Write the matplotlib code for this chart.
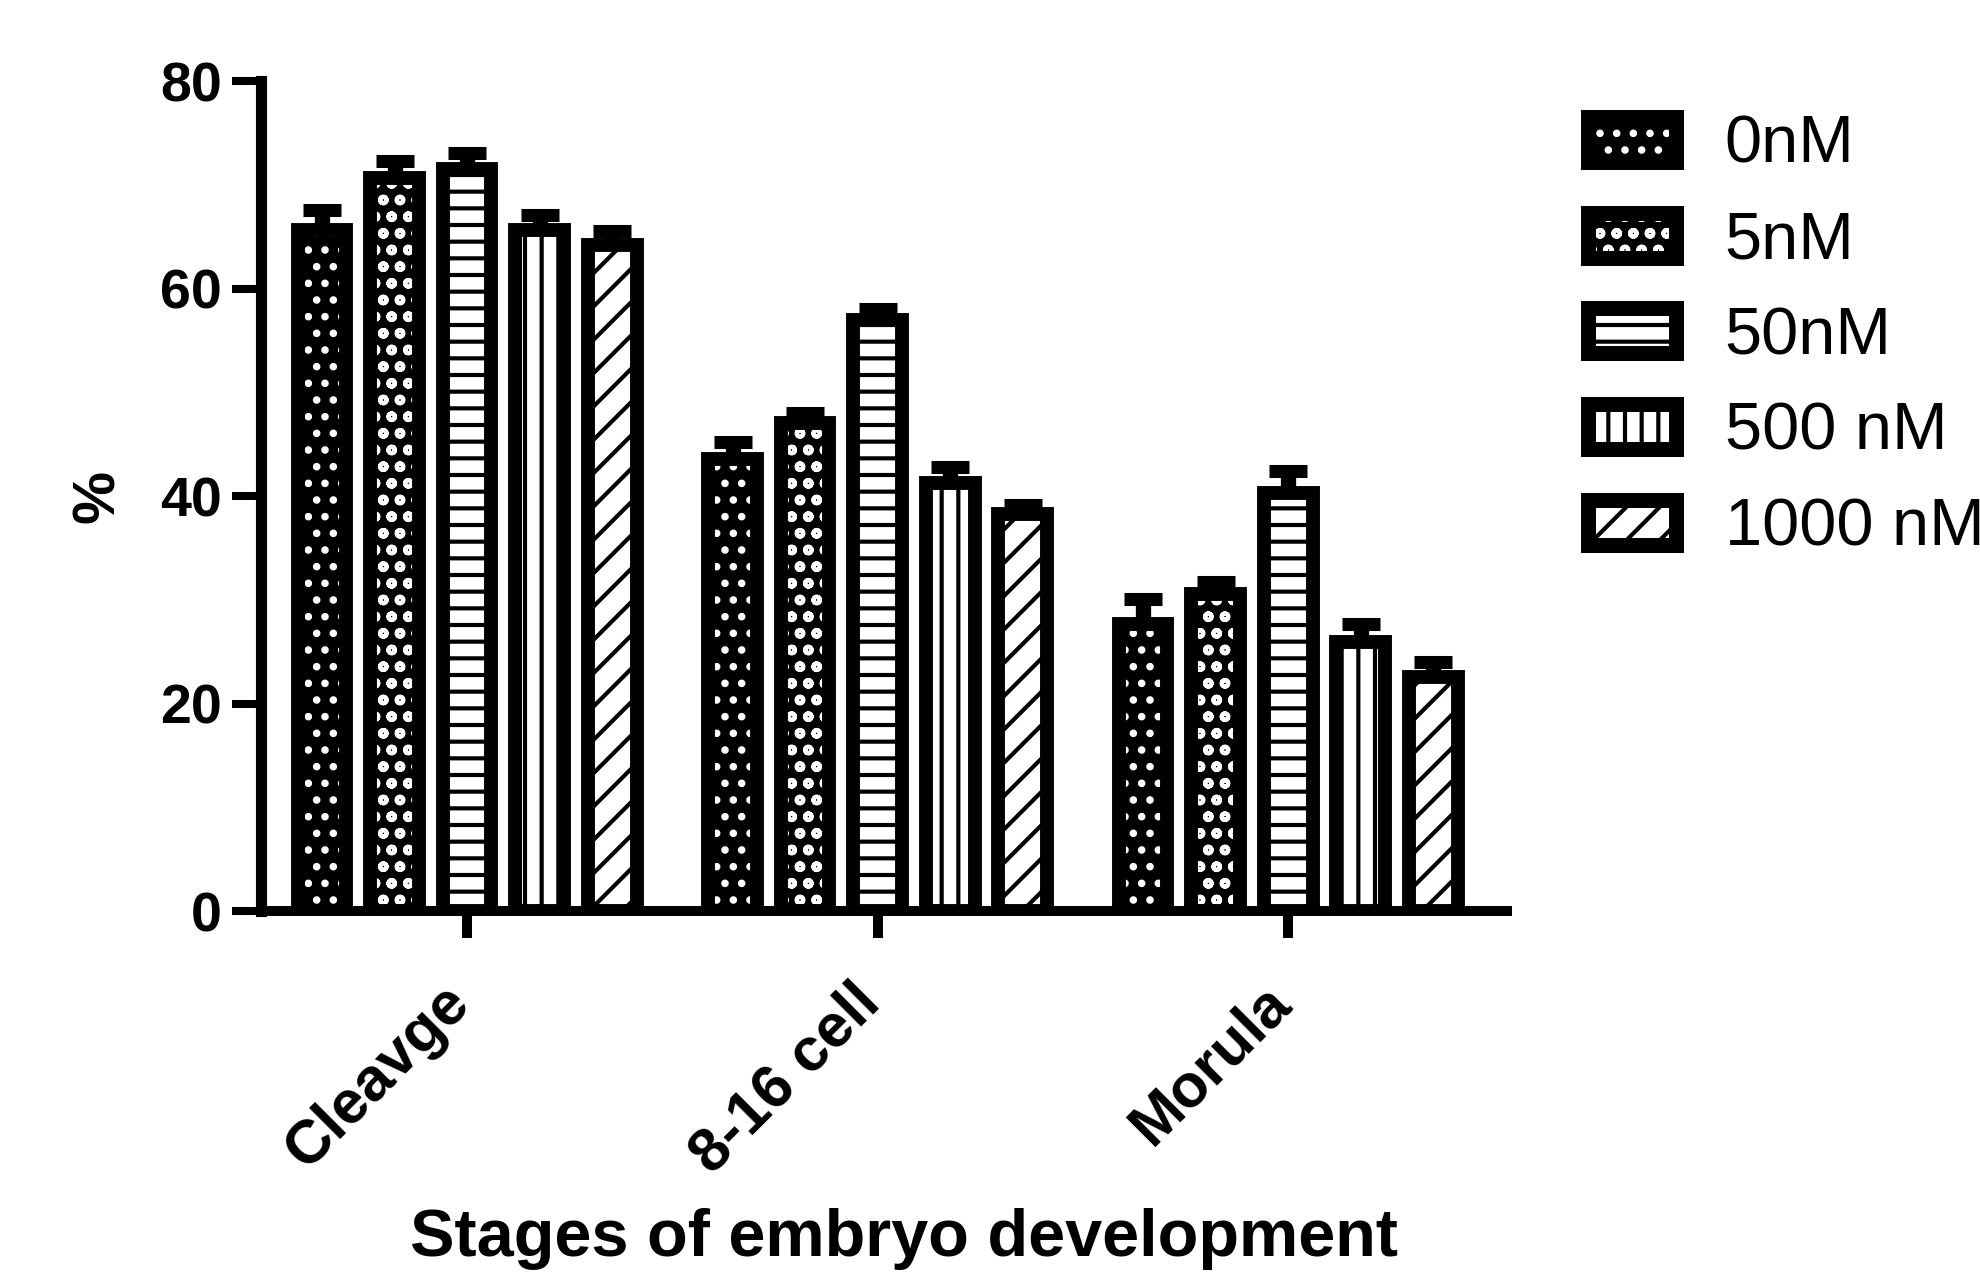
import numpy as np
import matplotlib
matplotlib.use('Agg')
import matplotlib.pyplot as plt
from matplotlib.patches import Patch
from matplotlib.transforms import ScaledTranslation

plt.rcParams['font.family'] = ['Liberation Sans', 'DejaVu Sans']
plt.rcParams['hatch.linewidth'] = 3.0

stages = ['Cleavge', '8-16 cell', 'Morula']
doses = ['0nM', '5nM', '50nM', '500 nM', '1000 nM']

# mean % of embryos reaching each stage, per dose
pct_0nm = [65.6, 43.6, 27.7]
pct_5nm = [70.7, 47.0, 30.6]
pct_50nm = [71.5, 57.0, 40.3]
pct_500nm = [65.6, 41.3, 25.9]
pct_1000nm = [64.2, 38.3, 22.6]

# SEM
sem_0nm = [2.0, 1.6, 2.4]
sem_5nm = [1.6, 1.0, 1.1]
sem_50nm = [1.6, 1.0, 2.1]
sem_500nm = [1.5, 1.5, 1.8]
sem_1000nm = [1.3, 0.8, 1.4]

means = [pct_0nm, pct_5nm, pct_50nm, pct_500nm, pct_1000nm]
sems = [sem_0nm, sem_5nm, sem_50nm, sem_500nm, sem_1000nm]

# (face colour, hatch colour, hatch)
styles = [('black', 'white', '.'),
          ('black', 'white', 'o'),
          ('white', 'black', '-'),
          ('white', 'black', '|'),
          ('white', 'black', '/')]

fig = plt.figure(figsize=(19.8, 12.76), dpi=100)
ax = fig.add_axes([0.1318, 0.2860, 0.6293, 0.6505])

x = np.arange(len(stages))
pitch = 0.1767
width = 0.1187

handles = []
for i in range(len(doses)):
    pos = x + (i - 2) * pitch
    face, hcol, hatch = styles[i]
    ax.errorbar(pos, means[i], yerr=[np.zeros(len(stages)), sems[i]], fmt='none',
                ecolor='black', elinewidth=11, capsize=13.7, capthick=9.4, zorder=1)
    ax.bar(pos, means[i], width, color=face, edgecolor=hcol, hatch=hatch,
           linewidth=0, zorder=2)
    ax.bar(pos, means[i], width, facecolor='none', edgecolor='black',
           linewidth=10, zorder=3)
    handles.append((Patch(facecolor=face, edgecolor=hcol, hatch=hatch, linewidth=0),
                    Patch(facecolor='none', edgecolor='black', linewidth=10.8)))

ax.set_xlim(-0.502, 2.533)
ax.set_ylim(0, 80)
ax.spines['top'].set_visible(False)
ax.spines['right'].set_visible(False)
ax.spines['left'].set_linewidth(8)
ax.spines['bottom'].set_linewidth(7.2)

ax.set_yticks([0, 20, 40, 60, 80])
ax.set_yticklabels(['0', '20', '40', '60', '80'], fontsize=40, fontweight='bold')
ax.tick_params(axis='y', length=21, width=5.8, pad=7)

ax.set_xticks(x)
ax.set_xticklabels(stages, rotation=45, ha='right', va='top', fontsize=44,
                   fontweight='bold')
ax.tick_params(axis='x', length=19.4, width=7.2, pad=26)
shift = ScaledTranslation(0.14, 0, fig.dpi_scale_trans)
for lab in ax.get_xticklabels():
    lab.set_transform(lab.get_transform() + shift)

ax.set_ylabel('%', fontsize=43, fontweight='bold')
ax.yaxis.set_label_coords(-0.108, 0.5)
ax.set_xlabel('Stages of embryo development', fontsize=48, fontweight='bold')
ax.xaxis.set_label_coords(0.516, -0.358)

ax.legend(handles, doses, loc='upper left', bbox_to_anchor=(0.802, 0.910),
          bbox_transform=fig.transFigure, frameon=False, fontsize=48,
          handlelength=1.32, handleheight=0.66, handletextpad=0.73,
          labelspacing=0.505, borderpad=0, borderaxespad=0)

fig.savefig('out.png', dpi=100)
